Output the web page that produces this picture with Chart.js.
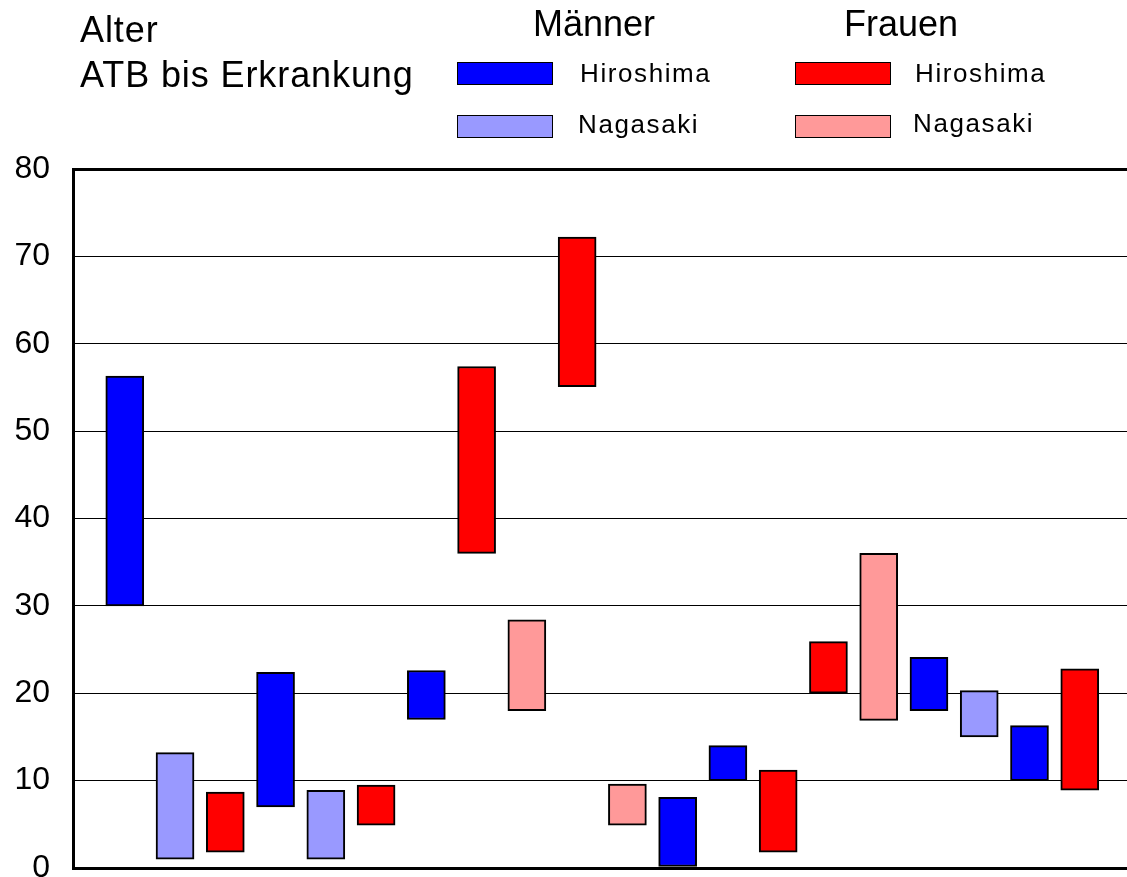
<!DOCTYPE html>
<html lang="de">
<head>
<meta charset="utf-8">
<title>Alter ATB bis Erkrankung</title>
<script src="https://cdn.jsdelivr.net/npm/chart.js@4"></script>
<style>
  html, body { margin: 0; padding: 0; background: #fff; overflow: hidden; }
  body { width: 1127px; height: 877px; position: relative; font-family: "Liberation Sans", Arial, sans-serif; color: #000; }
  #wrap { position: absolute; left: 0; top: 0; width: 1127px; height: 877px; }
  .t { position: absolute; white-space: nowrap; line-height: 1; }
  .big { font-size: 36px; }
  .title { letter-spacing: 0.9px; }
  .small { font-size: 26px; letter-spacing: 1.6px; }
  .sw { position: absolute; width: 94px; height: 21px; border: 1.5px solid #000; }
</style>
</head>
<body>
<div id="wrap"><canvas id="chart" width="1127" height="877"></canvas></div>

<div class="t big title" style="left:80px; top:12px;">Alter</div>
<div class="t big title" style="left:80px; top:57px;">ATB bis Erkrankung</div>

<div class="t big" style="left:533px; top:6px;">Männer</div>
<div class="sw" style="left:457px; top:62px; background:#0000ff;"></div>
<div class="t small" style="left:580px; top:60px;">Hiroshima</div>
<div class="sw" style="left:457px; top:115px; background:#9999ff;"></div>
<div class="t small" style="left:578px; top:111px;">Nagasaki</div>

<div class="t big" style="left:844px; top:6px;">Frauen</div>
<div class="sw" style="left:795px; top:62px; background:#ff0000;"></div>
<div class="t small" style="left:915px; top:60px;">Hiroshima</div>
<div class="sw" style="left:795px; top:115px; background:#ff9999;"></div>
<div class="t small" style="left:913px; top:110px;">Nagasaki</div>

<script>
// Position (1..20) von links, Beginn und Ende der Spanne in Jahren
const mhSlot = [1, 4, 7, 12, 13, 17, 19];
const mhLow  = [30, 7, 17, 0, 10, 18, 10];
const mhHigh = [56.3, 22.4, 22.6, 8.1, 14, 24.1, 16.3];

const mnSlot = [2, 5, 18];
const mnLow  = [1, 1, 15];
const mnHigh = [13.2, 8.9, 20.3];

const fhSlot = [3, 6, 8, 10, 14, 15, 20];
const fhLow  = [1.8, 4.9, 36, 55.1, 1.8, 20, 8.9];
const fhHigh = [8.7, 9.5, 57.4, 72.2, 11.2, 25.9, 22.8];

const fnSlot = [9, 11, 16];
const fnLow  = [18, 4.9, 16.9];
const fnHigh = [28.4, 9.6, 36];

const yTicks = [0, 10, 20, 30, 40, 50, 60, 70, 80];

function spans(slots, lows, highs) {
  return slots.map((s, i) => ({ x: s, y: [lows[i], highs[i]] }));
}

function bars(label, color, slots, lows, highs) {
  return {
    label,
    data: spans(slots, lows, highs),
    backgroundColor: color,
    borderColor: "#000",
    borderWidth: 2,
    borderSkipped: false,
    barThickness: 38,
    grouped: false,
  };
}

new Chart(document.getElementById("chart"), {
  type: "bar",
  data: {
    datasets: [
      bars("Männer Hiroshima", "#0000ff", mhSlot, mhLow, mhHigh),
      bars("Männer Nagasaki", "#9999ff", mnSlot, mnLow, mnHigh),
      bars("Frauen Hiroshima", "#ff0000", fhSlot, fhLow, fhHigh),
      bars("Frauen Nagasaki", "#ff9999", fnSlot, fnLow, fnHigh),
    ],
  },
  options: {
    responsive: false,
    animation: false,
    layout: { padding: { top: 169, bottom: 9, left: 0, right: 0 } },
    scales: {
      x: {
        type: "linear",
        min: -0.03,
        max: 20.94,
        offset: false,
        display: false,
      },
      y: {
        min: yTicks[0],
        max: yTicks[yTicks.length - 1],
        afterBuildTicks: (s) => { s.ticks = yTicks.map((v) => ({ value: v })); },
        afterFit: (s) => {
          s.width = 73;
          s.paddingTop = 0;
          s.paddingBottom = 0;
        },
        border: { display: true, width: 3, color: "#000" },
        grid: {
          color: "#000",
          lineWidth: (ctx) => (ctx.tick && (ctx.tick.value === 0 || ctx.tick.value === 80) ? 3 : 1),
          drawTicks: false,
        },
        ticks: {
          padding: 23,
          color: "#000",
          font: { family: "'Liberation Sans', Arial, sans-serif", size: 32 },
        },
      },
    },
    plugins: {
      legend: { display: false },
      tooltip: { enabled: false },
    },
  },
});
</script>
</body>
</html>
